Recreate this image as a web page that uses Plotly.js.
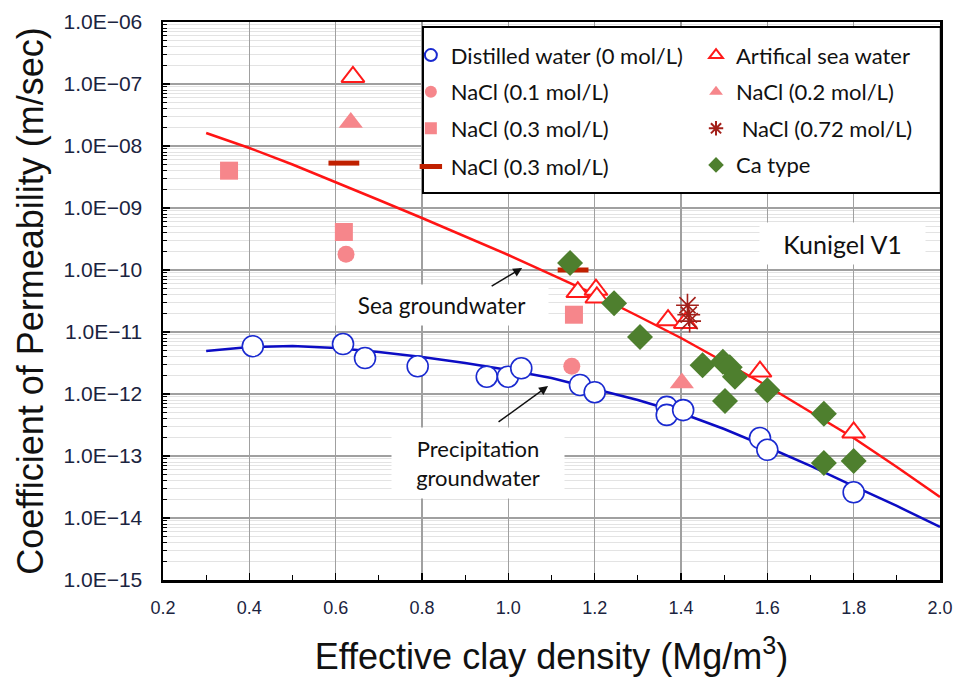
<!DOCTYPE html>
<html>
<head>
<meta charset="utf-8">
<script src="https://cdn.plot.ly/plotly-3.0.1.min.js"></script>
<style>html,body{margin:0;padding:0;background:#fff;}#chart{width:957px;height:686px;}</style>
</head>
<body>
<div id="chart"></div>
<script>
// ---- data ----
var seaFitX = [0.3, 0.4, 0.5, 0.6, 0.7, 0.8, 0.9, 1.0, 1.1, 1.2, 1.3, 1.4, 1.5, 1.6, 1.7, 1.8, 1.9, 2.0];
var seaFitLog = [-7.790, -8.032, -8.298, -8.581, -8.871, -9.161, -9.460, -9.758, -10.073, -10.395, -10.742, -11.097, -11.484, -11.871, -12.290, -12.710, -13.177, -13.661];
var rainFitX = [0.3, 0.4, 0.5, 0.6, 0.7, 0.8, 0.9, 1.0, 1.1, 1.2, 1.3, 1.4, 1.5, 1.6, 1.7, 1.8, 1.9, 2.0];
var rainFitLog = [-11.306, -11.242, -11.226, -11.258, -11.323, -11.403, -11.500, -11.613, -11.742, -11.919, -12.097, -12.306, -12.565, -12.855, -13.161, -13.484, -13.806, -14.145];

var distilledX = [0.408, 0.617, 0.668, 0.79, 0.95, 0.999, 1.03, 1.166, 1.20, 1.367, 1.367, 1.405, 1.583, 1.60, 1.80];
var distilledY = [5.9e-12, 6.4e-12, 3.8e-12, 2.8e-12, 1.9e-12, 1.9e-12, 2.6e-12, 1.4e-12, 1.07e-12, 6.2e-13, 4.6e-13, 5.5e-13, 1.95e-13, 1.26e-13, 2.6e-14];
var seaWaterX = [0.64, 1.161, 1.203, 1.205, 1.37, 1.41, 1.583, 1.80];
var seaWaterY = [1.3e-7, 4.4e-11, 4.8e-11, 3.6e-11, 1.55e-11, 1.4e-11, 2.3e-12, 2.4e-13];
var nacl01X = [0.624, 1.147];
var nacl01Y = [1.8e-10, 2.8e-12];
var nacl02X = [0.635, 1.402];
var nacl02Y = [2.4e-8, 1.5e-12];
var nacl03X = [0.353, 0.619, 1.152];
var nacl03Y = [4.0e-9, 4.1e-10, 1.9e-11];
var nacl03bX = [0.619, 1.15];
var nacl03bY = [5.3e-9, 1.0e-10];
var nacl072X = [1.415, 1.418, 1.42];
var nacl072Y = [2.7e-11, 1.9e-11, 1.5e-11];
var caX = [1.143, 1.245, 1.305, 1.45, 1.497, 1.513, 1.525, 1.502, 1.60, 1.731, 1.731, 1.80];
var caY = [1.3e-10, 2.9e-11, 8.3e-12, 2.9e-12, 3.3e-12, 2.7e-12, 1.9e-12, 7.7e-13, 1.15e-12, 4.8e-13, 7.7e-14, 8.3e-14];

var yTickVals = [1e-15, 1e-14, 1e-13, 1e-12, 1e-11, 1e-10, 1e-9, 1e-8, 1e-7, 1e-6];
var yTickText = ['1.0E\u221215', '1.0E\u221214', '1.0E\u221213', '1.0E\u221212', '1.0E\u221211', '1.0E\u221210', '1.0E\u221209', '1.0E\u221208', '1.0E\u221207', '1.0E\u221206'];
var xTickVals = [0.2, 0.4, 0.6, 0.8, 1.0, 1.2, 1.4, 1.6, 1.8, 2.0];
var xTickText = ['0.2', '0.4', '0.6', '0.8', '1.0', '1.2', '1.4', '1.6', '1.8', '2.0'];

var PINK = '#f6868b';
var TXT = 'Lato, "Open Sans", sans-serif';
var legFont = {family: TXT, size: 22, color: '#111'};

function pow10(a) { return a.map(function (v) { return Math.pow(10, v); }); }

var traces = [
  {x: seaFitX, y: pow10(seaFitLog), mode: 'lines', line: {color: '#ff1414', width: 2.5}, showlegend: false, hoverinfo: 'skip'},
  {x: rainFitX, y: pow10(rainFitLog), mode: 'lines', line: {color: '#0c0cc4', width: 2.5}, showlegend: false, hoverinfo: 'skip'},
  {x: distilledX, y: distilledY, mode: 'markers', name: 'Distilled water (0 mol/L)', legend: 'legend', legendgroup: 'a1', legendrank: 1,
   marker: {symbol: 'circle', size: 21, color: '#ffffff', line: {color: '#1a2ad0', width: 1.6}}},
  {x: nacl03X, y: nacl03Y, mode: 'markers', name: 'NaCl (0.3 mol/L)', legend: 'legend', legendgroup: 'a3', legendrank: 3,
   marker: {symbol: 'square', size: 18, color: PINK}},
  {x: nacl01X, y: nacl01Y, mode: 'markers', name: 'NaCl (0.1 mol/L)', legend: 'legend', legendgroup: 'a2', legendrank: 2,
   marker: {symbol: 'circle', size: 17, color: PINK}},
  {x: nacl02X, y: nacl02Y, mode: 'markers', name: 'NaCl (0.2 mol/L)', legend: 'legend2', legendgroup: 'b2', legendrank: 2,
   marker: {symbol: 'triangle-up', size: 21, color: PINK}},
  {x: seaWaterX, y: seaWaterY, mode: 'markers', name: 'Artifical sea water', legend: 'legend2', legendgroup: 'b1', legendrank: 1,
   marker: {symbol: 'triangle-up', size: 20, color: '#ffffff', line: {color: '#ff1a1a', width: 2}}},
  {x: nacl03bX, y: nacl03bY, mode: 'markers', name: 'NaCl (0.3 mol/L)', legend: 'legend3', legendgroup: 'a4', legendrank: 4,
   marker: {symbol: 'line-ew', size: 22, color: '#b80000', line: {color: '#c02000', width: 5}}},
  {x: nacl072X, y: nacl072Y, mode: 'markers', name: ' NaCl (0.72 mol/L)', legend: 'legend2', legendgroup: 'b3', legendrank: 3,
   marker: {symbol: 'asterisk-open', size: 19, color: '#a3201a', line: {color: '#a3201a', width: 1.6}}},
  {x: caX, y: caY, mode: 'markers', name: 'Ca type', legend: 'legend2', legendgroup: 'b4', legendrank: 4,
   marker: {symbol: 'diamond', size: 20, color: '#4e7f2e'}}
];

var lg = {
  bgcolor: 'rgba(0,0,0,0)', borderwidth: 0, font: legFont, itemsizing: 'constant',
  traceorder: 'grouped', tracegroupgap: 5, xanchor: 'left', yanchor: 'top', yref: 'paper', xref: 'paper'
};
var legend1 = Object.assign({}, lg, {x: 0.319, y: 0.978});
var legend2 = Object.assign({}, lg, {x: 0.686, y: 0.978});
var legend3 = Object.assign({}, lg, {x: 0.319, y: 0.978 - 3 * 0.0665, itemsizing: 'trace'});

var layout = {
  width: 957, height: 686,
  margin: {l: 163, r: 17, t: 22, b: 106},
  paper_bgcolor: '#ffffff', plot_bgcolor: '#ffffff',
  showlegend: true,
  legend: legend1,
  legend2: legend2,
  legend3: legend3,
  xaxis: {
    range: [0.2, 2.0], tickmode: 'array', tickvals: xTickVals, ticktext: xTickText,
    ticks: 'inside', ticklen: 7, tickwidth: 1.5, tickcolor: '#000',
    showgrid: true, gridcolor: '#a0a0a0', gridwidth: 1.5,
    showline: true, linecolor: '#000', linewidth: 2.5, mirror: true, zeroline: false,
    tickfont: {family: '"Liberation Sans", Arial, sans-serif', size: 18, color: '#1b2440'},
    ticklabelstandoff: 10,
    minor: {dtick: 0.1, tick0: 0.2, ticks: 'inside', ticklen: 5, tickcolor: '#000', tickwidth: 1.2, showgrid: false},
    title: {text: 'Effective clay density (Mg/m<sup>3</sup>)', standoff: 27,
            font: {family: '"Liberation Sans", Arial, sans-serif', size: 36, color: '#111'}}
  },
  yaxis: {
    type: 'log', range: [-15, -6], tickmode: 'array', tickvals: yTickVals, ticktext: yTickText,
    ticks: 'inside', ticklen: 7, tickwidth: 1.5, tickcolor: '#000',
    showgrid: true, gridcolor: '#a0a0a0', gridwidth: 1.5,
    showline: true, linecolor: '#000', linewidth: 2.5, mirror: true, zeroline: false,
    tickfont: {family: '"Liberation Sans", Arial, sans-serif', size: 21, color: '#1b2440'},
    ticklabelstandoff: 14,
    minor: {dtick: 'D1', ticks: 'inside', ticklen: 4, tickcolor: '#000', tickwidth: 1, showgrid: true, gridcolor: '#e3e3e3', gridwidth: 1},
    title: {text: 'Coefficient of Permeability (m/sec)', standoff: 9,
            font: {family: '"Liberation Sans", Arial, sans-serif', size: 36, color: '#111'}}
  },
  shapes: [
    {type: 'rect', xref: 'paper', yref: 'paper', x0: 0.3346, x1: 1.001, y0: 0.6935, y1: 0.991,
     fillcolor: '#ffffff', line: {color: '#000', width: 2}, layer: 'above'}
  ],
  annotations: [
    {x: 0.846, y: -10.565, xref: 'x', yref: 'y', text: 'Sea groundwater', showarrow: false,
     bgcolor: '#ffffff', width: 210, height: 38, font: {family: TXT, size: 22.5, color: '#111'}},
    {x: 0.93, y: -13.11, xref: 'x', yref: 'y', text: 'Precipitation<br>groundwater', showarrow: false,
     bgcolor: '#ffffff', width: 170, height: 68, font: {family: TXT, size: 22, color: '#111'}},
    {x: 1.775, y: -9.57, xref: 'x', yref: 'y', text: 'Kunigel V1', showarrow: false,
     bgcolor: '#ffffff', width: 163, height: 39, font: {family: TXT, size: 25, color: '#111'}},
    {x: 1.032, y: -9.968, xref: 'x', yref: 'y', ax: -32, ay: 19, text: '', showarrow: true,
     arrowhead: 2, arrowsize: 1.2, arrowwidth: 1.5, arrowcolor: '#111'},
    {x: 1.092, y: -11.871, xref: 'x', yref: 'y', ax: -51, ay: 37, text: '', showarrow: true,
     arrowhead: 2, arrowsize: 1.2, arrowwidth: 1.5, arrowcolor: '#111'}
  ]
};

Plotly.newPlot('chart', traces, layout, {displayModeBar: false, staticPlot: true});
</script>
</body>
</html>
